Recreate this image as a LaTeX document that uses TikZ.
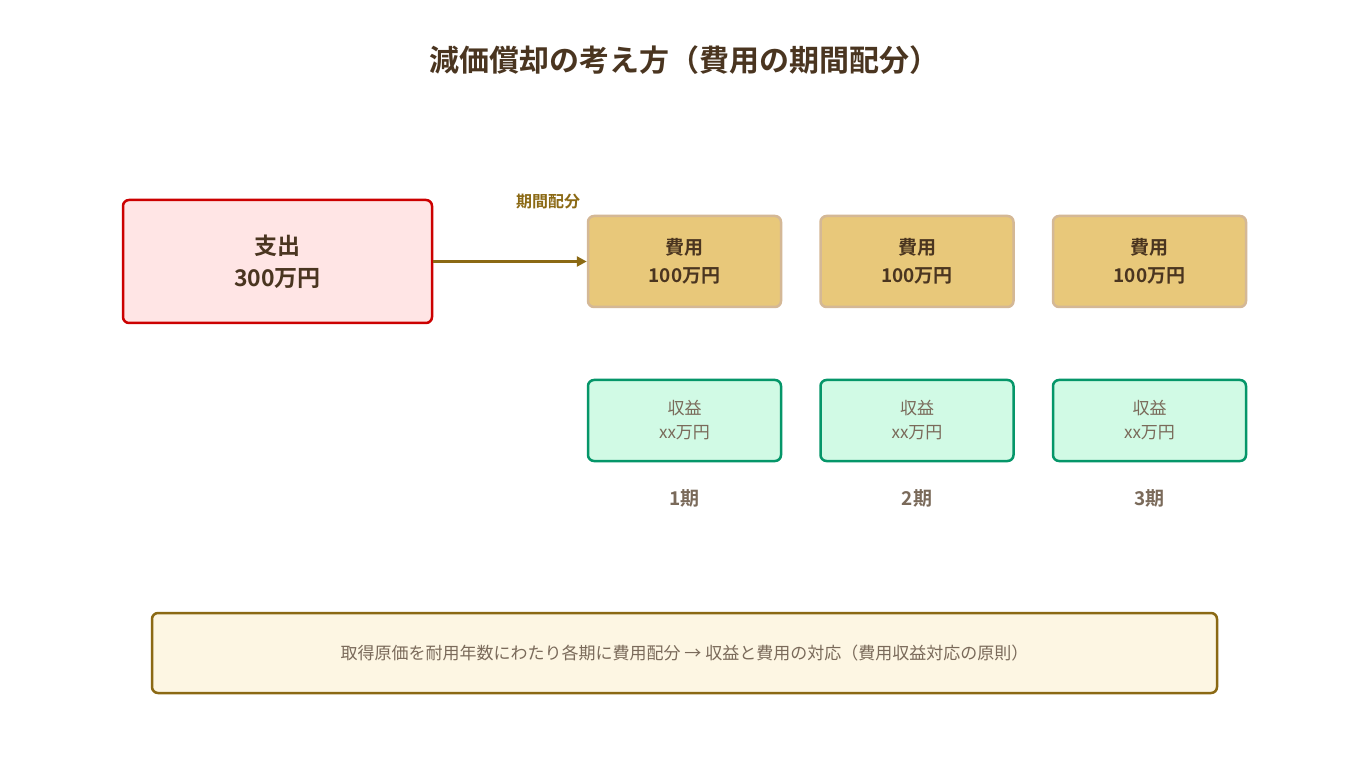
\documentclass[tikz,border=0pt]{standalone}
\usepackage{fontspec}
\setmainfont{Noto Sans CJK JP}
\newfontfamily\jpb{Noto Sans CJK JP Bold}
\usetikzlibrary{arrows.meta}
\definecolor{txt}{HTML}{4A3520}
\definecolor{brn}{HTML}{8B6914}
\definecolor{gry}{HTML}{7A6A5A}
\tikzset{
 box/.style={rounded corners=6pt,line width=2.5pt,align=center,inner sep=0pt},
 outbox/.style={box,draw=red!80!black,fill=red!10,text=txt},
 expbox/.style={box,draw={rgb,255:red,212;green,184;blue,150},fill={rgb,255:red,232;green,200;blue,122},text=txt},
 revbox/.style={box,draw={rgb,255:red,5;green,150;blue,105},fill={rgb,255:red,209;green,250;blue,229},text=gry},
}
\begin{document}
\begin{tikzpicture}[x=1pt,y=-1pt]
\useasboundingbox[fill=white] (0,0) rectangle (1368,783);
\node[text=txt,font=\jpb\fontsize{30}{36}\selectfont] (title) at (684,60) {減価償却の考え方（費用の期間配分）};
\node[outbox,minimum width=309pt,minimum height=123pt,font=\jpb\fontsize{23}{32}\selectfont] (out) at (277.5,261.5) {支出\\300万円};
\foreach \i/\x in {1/684.5,2/917,3/1149.5}{
 \node[expbox,minimum width=193pt,minimum height=91pt,font=\jpb\fontsize{19}{28}\selectfont] (e\i) at (\x,261.5) {費用\\100万円};
 \node[revbox,minimum width=193pt,minimum height=81pt,font=\fontsize{17}{24}\selectfont] (r\i) at (\x,420.5) {収益\\xx万円};
 \node[text=gry,font=\jpb\fontsize{19}{24}\selectfont] (p\i) at (\x,498) {\i 期};
}
\draw[brn,line width=3pt,-{Triangle[length=10pt,width=10pt]}] (out.east) -- (e1.west);
\node[text=brn,font=\jpb\fontsize{16}{20}\selectfont] (lbl) at (548,202) {期間配分};
\node[box,draw=brn,fill={rgb,255:red,253;green,246;blue,227},text=gry,minimum width=1065pt,minimum height=80pt,font=\fontsize{17}{22}\selectfont] (note) at (684.5,653) {取得原価を耐用年数にわたり各期に費用配分 → 収益と費用の対応（費用収益対応の原則）};
\end{tikzpicture}
\end{document}
